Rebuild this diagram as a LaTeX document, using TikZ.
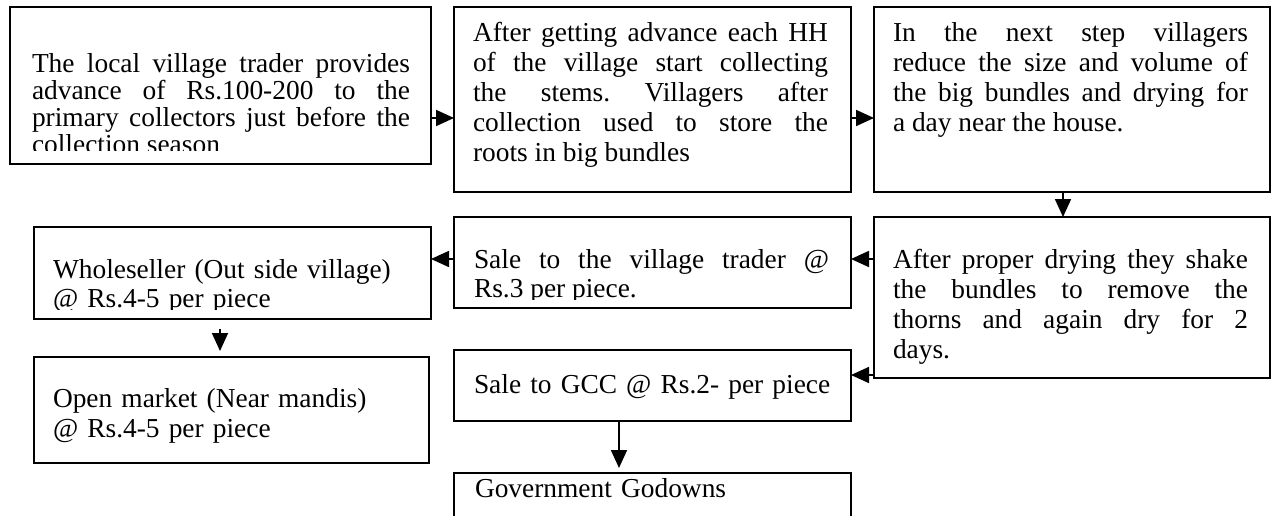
\documentclass[tikz,border=0pt]{standalone}
\usepackage{fontspec}
\setmainfont{Liberation Serif}
\usetikzlibrary{arrows.meta}
\tolerance=10000
\hbadness=10000
\hyphenpenalty=10000
\exhyphenpenalty=10000
\frenchspacing
\begin{document}
\begin{tikzpicture}[x=1pt,y=-1pt,
  box/.style={draw, line width=1.7pt, inner sep=0pt, outer sep=0pt, anchor=north west},
  txt/.style={anchor=north west, inner sep=0pt, outer sep=0pt, align=justify},
  fa/.style={font=\fontsize{27.4pt}{27pt}\selectfont},
  fb/.style={font=\fontsize{27.4pt}{29pt}\selectfont},
  fc/.style={font=\fontsize{27.4pt}{30pt}\selectfont},
  arr/.style={line width=1.7pt, -{Triangle[length=18pt,width=16pt]}}]
\useasboundingbox (0,0) rectangle (1271,516);
\fill[white] (0,0) rectangle (1271,516);
\clip (0,0) rectangle (1271,516);

% boxes
\node[box, minimum width=421pt, minimum height=157pt] (b1) at (10,7) {};
\node[box, minimum width=397pt, minimum height=185pt] (b2) at (454,7) {};
\node[box, minimum width=396pt, minimum height=185pt] (b3) at (874,7) {};
\node[box, minimum width=396pt, minimum height=161pt] (b6) at (874,217) {};
\node[box, minimum width=397pt, minimum height=91pt] (b5) at (454,217) {};
\node[box, minimum width=397pt, minimum height=92pt] (b4) at (34,227) {};
\node[box, minimum width=395pt, minimum height=106pt] (b7) at (34,357) {};
\node[box, minimum width=397pt, minimum height=71pt] (b8) at (454,350) {};
\node[box, minimum width=397pt, minimum height=70pt] (b9) at (454,473) {};

% texts
\begin{scope}
\clip (10,7) rectangle (431,150);
\node[txt, fa, text width=378pt] (t1) at (32,53) {\noindent\rule{0pt}{20pt}The local village trader provides\linebreak advance of Rs.100-200 to the\linebreak primary collectors just before the\linebreak collection season};
\end{scope}
\node[txt, fc, text width=355pt] (t2) at (473,22) {\noindent\rule{0pt}{20pt}After getting advance each HH\linebreak of the village start collecting\linebreak the stems. Villagers after\linebreak collection used to store the\linebreak roots in big bundles};
\node[txt, fc, text width=355pt] (t3) at (893,22) {\noindent\rule{0pt}{20pt}In the next step villagers\linebreak reduce the size and volume of\linebreak the big bundles and drying for\linebreak a day near the house.};
\node[txt, fc, text width=355pt] (t6) at (893,248) {\noindent\rule{0pt}{20pt}After proper drying they shake\linebreak the bundles to remove the\linebreak thorns and again dry for 2\linebreak days.};
\begin{scope}
\clip (454,217) rectangle (851,299);
\node[txt, fb, text width=355pt] (t5) at (474,248) {\noindent\rule{0pt}{20pt}Sale to the village trader @\linebreak Rs.3 per piece.};
\end{scope}
\begin{scope}
\clip (34,227) rectangle (431,309);
\node[txt, fb, text width=360pt, align=left] (t4) at (53,258) {\noindent\rule{0pt}{20pt}Wholeseller (Out side village)\\ @ Rs.4-5 per piece};
\end{scope}
\node[txt, fc, text width=360pt, align=left] (t7) at (53,387) {\noindent\rule{0pt}{20pt}Open market (Near mandis)\\ @ Rs.4-5 per piece};
\node[txt, fb, text width=370pt, align=left] (t8) at (474,373) {\noindent\rule{0pt}{20pt}Sale to GCC @ Rs.2- per piece};
\node[txt, fb, text width=370pt, align=left] (t9) at (475,477) {\noindent\rule{0pt}{20pt}Government Godowns};

% connector guides
\coordinate (r1) at (0,118);
\coordinate (r2) at (0,259);
\coordinate (r3) at (0,375);
\coordinate (c1) at (220,0);
\coordinate (c2) at (619,0);
\coordinate (c3) at (1063,0);

% connectors
\draw[arr] (b1.east |- r1) -- (b2.west |- r1);
\draw[arr] (b2.east |- r1) -- (b3.west |- r1);
\draw[arr] (b3.south -| c3) -- (b6.north -| c3);
\draw[arr] (b6.west |- r2) -- (b5.east |- r2);
\draw[arr] (b5.west |- r2) -- (b4.east |- r2);
\draw[arr] (b6.west |- r3) -- (b8.east |- r3);
\draw[arr, shorten <=10pt, shorten >=6pt] (b4.south -| c1) -- (b7.north -| c1);
\draw[arr, shorten >=5pt] (b8.south -| c2) -- (b9.north -| c2);
\end{tikzpicture}
\end{document}
